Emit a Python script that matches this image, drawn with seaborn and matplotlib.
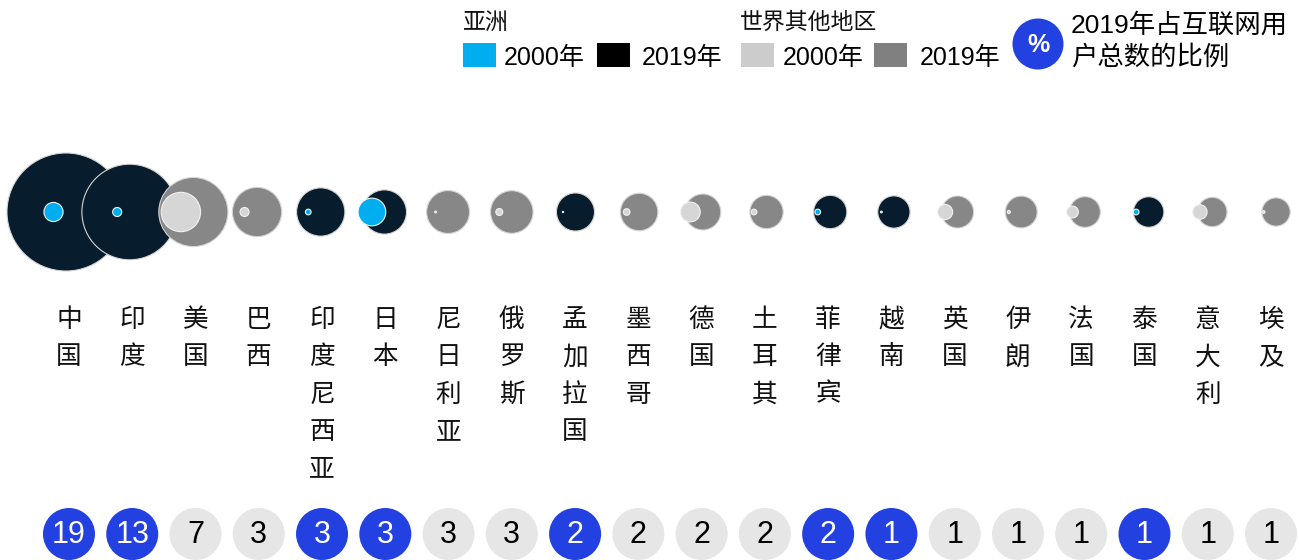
import numpy as np
import pandas as pd
import matplotlib
matplotlib.use('Agg')
import matplotlib.pyplot as plt
import seaborn as sns
from matplotlib.patches import Rectangle, Ellipse

# ---------------- data ----------------
countries = ['中国', '印度', '美国', '巴西', '印度尼西亚', '日本', '尼日利亚', '俄罗斯',
             '孟加拉国', '墨西哥', '德国', '土耳其', '菲律宾', '越南', '英国', '伊朗',
             '法国', '泰国', '意大利', '埃及']
regions = ['亚洲', '亚洲', '其他', '其他', '亚洲', '亚洲', '其他', '其他',
           '亚洲', '其他', '其他', '其他', '亚洲', '亚洲', '其他', '其他',
           '其他', '亚洲', '其他', '其他']
users_2019 = [854, 560, 293, 149, 143, 120, 113, 111, 89, 86, 79, 68, 68, 64, 63, 62, 58, 57, 53, 49]
users_2000 = [22.5, 5, 95, 5, 2, 47, 0.2, 3, 0.1, 2.7, 24, 2, 2, 0.2, 14, 0.6, 8.5, 2, 13, 0.5]
share_2019 = [19, 13, 7, 3, 3, 3, 3, 3, 2, 2, 2, 2, 2, 1, 1, 1, 1, 1, 1, 1]

legend_asia = '亚洲'
legend_rest = '世界其他地区'
legend_years = ['2000年', '2019年']
legend_share = ['2019年占互联网用', '户总数的比例']

# ---------------- style ----------------
sns.set_theme(style='white')
plt.rcParams['font.family'] = ['Liberation Sans', 'Noto Sans CJK SC', 'DejaVu Sans']

W, H = 1299, 560
fig = plt.figure(figsize=(W / 100, H / 100), dpi=100)
ax = fig.add_axes([0, 0, 1, 1])
ax.set_xlim(-1.036, 19.361)
ax.set_ylim(H, 0)
ax.axis('off')

n = len(countries)
df = pd.DataFrame({
    'pos': np.arange(n, dtype=float),
    'country': countries,
    'region': regions,
    'u2019': users_2019,
    'u2000': users_2000,
    'share': share_2019,
})
df['pos2000'] = df['pos'] - 0.196
df['label_pos'] = df['pos'] * 0.9934 + 0.047
df['row'] = 212.0
df['badge_row'] = 534.0

vmax = max(users_2019)
k = 59 / np.sqrt(vmax)           # px radius per sqrt(unit)
smax = (2 * 0.72 * k) ** 2 * vmax  # points^2 for max value

pal2019 = {'亚洲': '#071d2e', '其他': '#878787'}
pal2000 = {'亚洲': '#00aeef', '其他': '#d6d6d6'}
palbadge = {'亚洲': '#2341e0', '其他': '#e6e6e6'}

sns.scatterplot(data=df, x='pos', y='row', size='u2019', hue='region',
                palette=pal2019, sizes=(0, smax), size_norm=(0, vmax),
                edgecolor='#d4d4d4', linewidth=0.8, legend=False, ax=ax, zorder=2)
sns.scatterplot(data=df, x='pos2000', y='row', size='u2000', hue='region',
                palette=pal2000, sizes=(0, smax), size_norm=(0, vmax),
                edgecolor='#f2f2f2', linewidth=0.8, legend=False, ax=ax, zorder=3)
sns.scatterplot(data=df, x='label_pos', y='badge_row', hue='region', palette=palbadge,
                s=(2 * 0.72 * 26) ** 2, linewidth=0, legend=False, ax=ax, zorder=2)

for i, row in df.iterrows():
    for j, ch in enumerate(row['country']):
        ax.text(row['label_pos'], 320 + j * 37.3, ch, ha='center', va='center',
                fontsize=18.5, family='Noto Sans CJK SC', color='#111111')
    ax.text(row['label_pos'], row['badge_row'] + 1, str(row['share']), ha='center', va='center',
            fontsize=22, color='white' if row['region'] == '亚洲' else 'black', zorder=4)

# ---------------- legend ----------------
def fx(x):
    return x / W

def fy(y):
    return 1 - y / H

fig.text(fx(463), fy(22.5), legend_asia, ha='left', va='center', fontsize=16.5,
         family='Noto Sans CJK SC', color='#111111')
fig.text(fx(740), fy(22.5), legend_rest, ha='left', va='center', fontsize=16.5,
         family='Noto Sans CJK SC', color='#111111')

squares = [(463, '#00aeef', legend_years[0], 504),
           (597, '#000000', legend_years[1], 642),
           (741, '#cccccc', legend_years[0], 783),
           (874, '#808080', legend_years[1], 920)]
for sx, col, lab, tx in squares:
    fig.patches.append(Rectangle((fx(sx), fy(67)), 33 / W, 24 / H, transform=fig.transFigure,
                                 facecolor=col, edgecolor='none'))
    fig.text(fx(tx), fy(58), lab, ha='left', va='center', fontsize=18, color='black')

fig.patches.append(Ellipse((fx(1038), fy(44)), 51 / W, 51 / H, transform=fig.transFigure,
                           facecolor='#2341e0', edgecolor='none'))
fig.text(fx(1038), fy(45), '%', ha='center', va='center', fontsize=18,
         color='white', fontweight='bold')
fig.text(fx(1071), fy(25), legend_share[0], ha='left', va='center', fontsize=19, color='black')
fig.text(fx(1071), fy(57.5), legend_share[1], ha='left', va='center', fontsize=19, color='black')

fig.savefig('out.png', dpi=100)
